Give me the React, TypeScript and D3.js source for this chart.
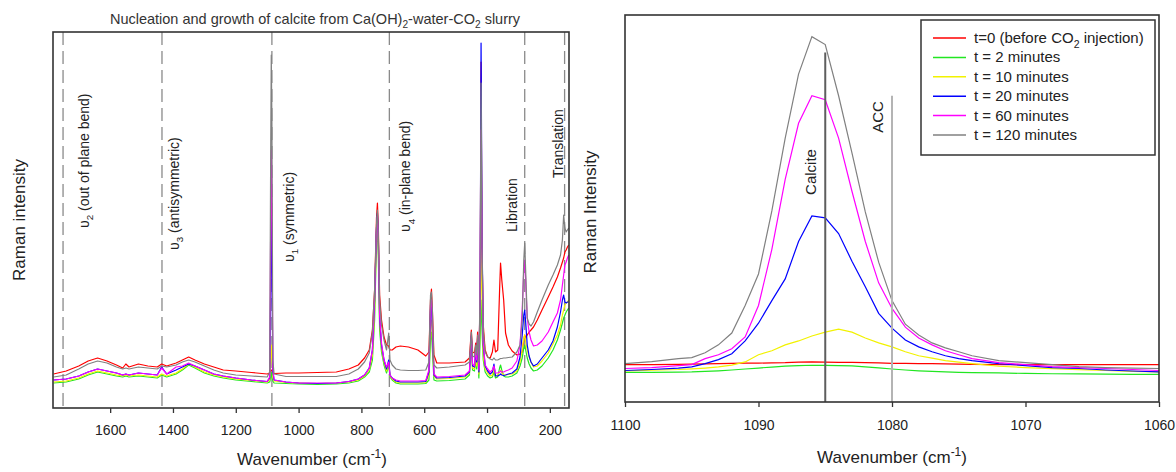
import * as d3 from "d3";
import { useEffect, useRef } from "react";

// Left panel: full Raman spectra, wavenumber (cm-1) and intensity (a.u.)
const fullWavenumbers = [
  1780, 1740, 1700, 1670, 1640, 1610, 1580, 1560, 1550, 1540,
  1510, 1480, 1450, 1436, 1420, 1390, 1370, 1350, 1330, 1300,
  1270, 1240, 1200, 1150, 1100, 1092, 1089, 1087, 1085, 1082,
  1078, 1040, 1000, 940, 880, 840, 810, 790, 775, 765,
  758, 752, 749, 746, 742, 736, 728, 720, 713, 709,
  702, 690, 676, 650, 620, 595, 585, 580, 577, 574,
  569, 560, 520, 470, 456, 450, 446, 440, 436, 433,
  430, 426, 422, 419, 416, 412, 406, 398, 390, 383,
  378, 373, 366, 360, 357, 353, 347, 341, 332, 320,
  305, 295, 288, 283, 280, 277, 272, 266, 260, 252,
  240, 225, 205, 190, 176, 166, 160, 156, 152, 148,
  144, 140,
];
const fullT0 = [
  34, 37, 42, 47, 50, 47, 43, 40, 44, 41,
  44, 42, 41, 44, 42, 45, 48, 51, 48, 44,
  41, 38, 37, 35.5, 34, 35, 37, 38, 37, 35,
  34.5, 35, 35, 35.5, 36, 39, 43, 50, 58, 78,
  118, 190, 205, 180, 113, 88, 71, 63, 62, 58,
  58, 61, 62, 61, 58, 52, 56, 108, 119, 98,
  53, 45, 45, 46, 50, 78, 56, 55, 65, 58,
  76, 48, 108, 346, 158, 83, 58, 51, 50, 56,
  68, 56, 58, 118, 145, 128, 108, 75, 63, 57,
  53, 54, 56, 68, 73, 70, 73, 76, 78, 81,
  88, 98, 111, 121, 131, 140, 146, 150, 156, 158,
  161, 163,
];
const fullT2 = [
  25, 26, 29, 33, 36, 34, 32, 31, 32, 31,
  32, 31, 30, 33, 31, 34, 38, 43, 40, 35,
  32, 30, 28, 26.5, 25, 26, 30, 36, 32, 27,
  25, 24.5, 24, 23.5, 24, 25, 27, 31, 36, 48,
  88, 165, 178, 150, 78, 56, 43, 35, 43, 31,
  28, 25, 24, 24, 24, 24.5, 28, 68, 76, 58,
  28, 27, 27.5, 29, 33, 66, 38, 37, 48, 39,
  58, 30, 68, 108, 78, 48, 36, 32, 30, 31,
  36, 30, 31, 40, 43, 38, 32, 31, 31, 32,
  35, 42, 50, 60, 63, 58, 50, 44, 40, 37,
  38, 42, 50, 58, 68, 78, 85, 90, 93, 96,
  98, 100,
];
const fullT10 = [
  26, 27, 30, 34, 37, 35, 33, 32, 33, 32,
  33, 32, 31, 34, 32, 35, 39, 44, 41, 36,
  33, 31, 29, 27.5, 26, 28, 48, 63, 52, 31,
  27, 25.5, 25, 24.5, 25, 26, 28, 32, 38, 53,
  98, 172, 186, 158, 86, 60, 46, 37, 45, 32,
  29, 26, 25, 25, 25, 25.5, 33, 83, 88, 68,
  32, 29, 29.5, 31, 35, 68, 40, 39, 52, 42,
  63, 34, 88, 158, 108, 53, 39, 35, 32, 33,
  40, 32, 33, 36, 38, 35, 33, 33, 33.5, 34,
  37, 46, 58, 70, 73, 66, 58, 51, 46, 41,
  42, 47, 55, 64, 73, 83, 93, 98, 103, 105,
  106, 108,
];
const fullT20 = [
  28, 29, 32, 36, 39, 37, 35, 33, 34, 33,
  35, 34, 33, 41, 34, 38, 41, 44, 42, 38,
  34, 32, 30, 28, 26.5, 30, 118, 203, 148, 36,
  28, 26, 25, 24.5, 25, 26.5, 29, 33, 40, 58,
  108, 180, 195, 168, 90, 63, 48, 39, 48, 33,
  30, 27, 26, 26, 26, 26.5, 36, 98, 102, 78,
  33, 30, 30.5, 32, 36, 72, 42, 41, 58, 46,
  68, 36, 108, 365, 178, 63, 42, 37, 34, 36,
  44, 32, 32, 33, 34, 33, 32.5, 33, 34, 35,
  39, 51, 73, 93, 98, 86, 63, 52, 46, 42,
  44, 50, 58, 67, 81, 96, 108, 113, 106, 105,
  106, 106,
];
const fullT60 = [
  28, 29, 32, 36, 39, 37, 35, 33, 34, 33,
  35, 34, 33, 40, 34, 41, 42, 45, 42, 38,
  34, 32, 30, 28, 26.5, 31, 178, 258, 208, 40,
  28, 26, 25, 25, 25, 26.5, 29, 33, 40, 58,
  110, 178, 192, 166, 93, 65, 48, 41, 46, 33,
  30, 28, 27, 27, 27, 27.5, 38, 103, 108, 83,
  34, 31, 31.5, 33, 37, 73, 44, 42, 60, 48,
  71, 38, 118, 278, 168, 65, 43, 39, 36, 38,
  42, 35, 35, 36, 37, 36, 36, 37, 38, 40,
  47, 63, 98, 138, 148, 128, 90, 76, 68, 62,
  63, 67, 76, 86, 95, 108, 123, 133, 143, 146,
  150, 153,
];
const fullT120 = [
  31, 33, 39, 44, 47, 45, 41, 39, 40, 39,
  41, 40, 39, 42, 41, 43, 46, 48, 46, 42,
  38, 35, 33, 32, 31, 36, 248, 353, 288, 48,
  34, 31.5, 31.5, 31.5, 31.5, 34, 39, 46, 55, 76,
  118, 183, 198, 172, 108, 83, 68, 58, 75, 48,
  43, 39, 38, 37.5, 37.5, 38, 46, 113, 116, 98,
  43, 40, 41, 43, 46, 76, 52, 51, 63, 53,
  73, 46, 118, 325, 168, 78, 56, 51, 49, 48,
  50, 48, 48, 49, 49.5, 49.5, 50, 50, 50.5, 51,
  56, 63, 88, 148, 165, 138, 90, 84, 82, 86,
  96, 108, 123, 133, 143, 153, 168, 193, 180, 176,
  178, 180,
];

// Right panel: the v1 band expanded
const zoomWavenumbers = [
  1100, 1098, 1096, 1095, 1094, 1093, 1092, 1091, 1090, 1089, 1088,
  1087, 1086, 1085, 1084, 1083, 1082, 1081, 1080, 1079, 1078, 1077,
  1076, 1075, 1074, 1072, 1070, 1068, 1066, 1064, 1062, 1060,
];
const zoomT0 = [
  35, 35, 35.2, 35.5, 35.7, 36, 36.2, 36.4, 36.5, 36.8, 37,
  37.5, 37.7, 37.5, 37.3, 37.2, 37, 36.7, 36.3, 36.2, 36, 35.9,
  35.7, 35.5, 35.3, 35, 35, 35, 35, 35, 35, 35,
];
const zoomT2 = [
  27, 27, 27.3, 27.5, 28, 28.6, 29.5, 30.5, 31.5, 32.5, 33.5,
  34, 34.3, 34.2, 34, 33.6, 32.7, 31.7, 30.5, 29.5, 28.7, 28,
  27.5, 27, 26.8, 26.5, 26, 25.7, 25.5, 25.3, 25, 25,
];
const zoomT10 = [
  28.6, 29.4, 30, 30.7, 31.5, 32.6, 34.5, 37.7, 45, 49, 55,
  59, 64, 68, 71, 68, 62, 57, 53, 48, 44, 41.5,
  39, 37.5, 36, 33.3, 32, 30.8, 29.8, 29, 28.2, 27.5,
];
const zoomT20 = [
  29, 30, 31.5, 32.6, 36, 40, 46, 59, 77, 100, 122,
  160, 186, 184, 168, 140, 114, 87, 72, 60, 53, 48,
  44, 41, 39, 36, 34, 32, 31, 29.5, 28.5, 27.5,
];
const zoomT60 = [
  31, 32, 34, 35, 41, 45, 51, 63, 95, 152, 223,
  280, 308, 304, 265, 211, 160, 118, 92, 73, 62, 55,
  49, 45, 41, 37, 35, 33, 32, 31, 30, 29,
];
const zoomT120 = [
  36, 38, 41, 42, 47, 55, 67, 95, 127, 191, 265,
  330, 368, 360, 308, 250, 190, 139, 100, 76, 65, 57,
  52, 48, 44, 39, 37, 35, 33, 32, 31.5, 31,
];

const seriesLabels = [
  "t=0 (before CO_{2} injection)",
  "t = 2 minutes",
  "t = 10 minutes",
  "t = 20 minutes",
  "t = 60 minutes",
  "t = 120 minutes",
];
const seriesColors = ["#ff0000", "#22e622", "#f2f200", "#0000ff", "#ff00ff", "#808080"];

const fullTicks = [1600, 1400, 1200, 1000, 800, 600, 400, 200];
const zoomTicks = [1100, 1090, 1080, 1070, 1060];

// vibration bands marked in the left panel
const bandWavenumbers = [1750, 1435, 1085, 711, 280, 153];
const bandLabels = [
  "υ_{2} (out of plane bend)",
  "υ_{3} (antisymmetric)",
  "υ_{1} (symmetric)",
  "υ_{4} (in-plane bend)",
  "Libration",
  "Translation",
];

// reference lines in the right panel (position, label, height)
const markerWavenumbers = [1085, 1080];
const markerLabels = ["Calcite", "ACC"];
const markerTops = [352, 308];

// writes "a_{2}" / "a^{-1}" as tspans
function richText(sel: any, str: string, size: number) {
  const parts = str.split(/([_^]\{[^}]*\})/).filter((p) => p.length);
  let shift = 0;
  parts.forEach((p) => {
    const m = p.match(/^([_^])\{([^}]*)\}$/);
    if (m) {
      const d = m[1] === "_" ? size * 0.3 : -size * 0.4;
      sel.append("tspan").attr("dy", d - shift).attr("font-size", size * 0.7).text(m[2]);
      shift = d;
    } else {
      sel.append("tspan").attr("dy", -shift).text(p);
      shift = 0;
    }
  });
}

export default function App() {
  const ref = useRef<SVGSVGElement>(null);

  useEffect(() => {
    const svg = d3.select(ref.current);
    svg.selectAll("*").remove();
    svg.attr("font-family", "Liberation Sans, Arial, sans-serif");
    const ink = "#222";

    // ---------- left panel ----------
    const L = { left: 53, right: 569, top: 32, bottom: 408 };
    const xL = d3.scaleLinear().domain([1782, 139]).range([L.left, L.right]);
    const yL = d3.scaleLinear().domain([0, 376]).range([L.bottom, L.top]);
    const fullSeries = [fullT0, fullT2, fullT10, fullT20, fullT60, fullT120];

    // dashed band lines
    svg.selectAll(".band")
      .data(bandWavenumbers)
      .join("line")
      .attr("x1", (d) => xL(d)).attr("x2", (d) => xL(d))
      .attr("y1", L.top).attr("y2", L.bottom)
      .attr("stroke", "#8a8a8a")
      .attr("stroke-width", 1.3)
      .attr("stroke-dasharray", "13,6");

    const lineL = d3.line<number>()
      .x((d, i) => xL(fullWavenumbers[i]))
      .y((d) => yL(d));
    fullSeries.forEach((s, k) => {
      svg.append("path")
        .datum(s)
        .attr("d", lineL)
        .attr("fill", "none")
        .attr("stroke", seriesColors[k])
        .attr("stroke-width", 1.2)
        .attr("stroke-linejoin", "round");
    });

    // band labels (rotated), offset from their dashed line
    const labelDx = [26, 17, 22, 21, -8, -2];
    const labelBottom = [228, 250, 262, 232, 232, 178];
    bandWavenumbers.forEach((w, i) => {
      const t = svg.append("text")
        .attr("transform", `translate(${xL(w) + labelDx[i]},${labelBottom[i]}) rotate(-90)`)
        .attr("font-size", 14)
        .attr("fill", ink);
      richText(t, bandLabels[i], 14);
    });

    const axL = svg.append("g")
      .attr("transform", `translate(0,${L.bottom})`)
      .call(d3.axisBottom(xL).tickValues(fullTicks).tickSize(5).tickPadding(12).tickFormat(d3.format("d")));
    axL.select(".domain").remove();
    axL.selectAll("line").attr("stroke", "#333").attr("stroke-width", 1.3);
    axL.selectAll("text").attr("font-size", 14).attr("font-family", "Liberation Sans, Arial, sans-serif").attr("fill", ink);

    svg.append("rect")
      .attr("x", L.left).attr("y", L.top)
      .attr("width", L.right - L.left).attr("height", L.bottom - L.top)
      .attr("fill", "none").attr("stroke", "#333").attr("stroke-width", 1.6);

    const titleL = svg.append("text")
      .attr("x", (L.left + L.right) / 2 + 4).attr("y", 24)
      .attr("text-anchor", "middle").attr("font-size", 14.5).attr("fill", "#333");
    richText(titleL, "Nucleation and growth of calcite from Ca(OH)_{2}-water-CO_{2} slurry", 14.5);

    const xtL = svg.append("text")
      .attr("x", 312).attr("y", 465)
      .attr("text-anchor", "middle").attr("font-size", 17).attr("fill", ink);
    richText(xtL, "Wavenumber (cm^{-1})", 17);

    svg.append("text")
      .attr("transform", "translate(25,220) rotate(-90)")
      .attr("text-anchor", "middle").attr("font-size", 17).attr("fill", ink)
      .text("Raman intensity");

    // ---------- right panel ----------
    const R = { left: 625, right: 1159, top: 15, bottom: 402 };
    const xR = d3.scaleLinear().domain([1100, 1060]).range([R.left, R.right]);
    const yR = d3.scaleLinear().domain([-3, 390]).range([R.bottom, R.top]);
    const zoomSeries = [zoomT0, zoomT2, zoomT10, zoomT20, zoomT60, zoomT120];

    const lineR = d3.line<number>()
      .x((d, i) => xR(zoomWavenumbers[i]))
      .y((d) => yR(d));
    zoomSeries.forEach((s, k) => {
      svg.append("path")
        .datum(s)
        .attr("d", lineR)
        .attr("fill", "none")
        .attr("stroke", seriesColors[k])
        .attr("stroke-width", 1.2);
    });

    const markerColors = ["#5e5e5e", "#b4b4b4"];
    svg.selectAll(".marker")
      .data(markerWavenumbers)
      .join("line")
      .attr("x1", (d) => xR(d)).attr("x2", (d) => xR(d))
      .attr("y1", (d, i) => yR(markerTops[i])).attr("y2", R.bottom)
      .attr("stroke", (d, i) => markerColors[i])
      .attr("stroke-width", 2);

    const markerLabelY = [172, 117];
    markerWavenumbers.forEach((w, i) => {
      svg.append("text")
        .attr("transform", `translate(${xR(w) - 9},${markerLabelY[i]}) rotate(-90)`)
        .attr("text-anchor", "middle").attr("font-size", 15).attr("fill", ink)
        .text(markerLabels[i]);
    });

    const axR = svg.append("g")
      .attr("transform", `translate(0,${R.bottom})`)
      .call(d3.axisBottom(xR).tickValues(zoomTicks).tickSize(5).tickPadding(13).tickFormat(d3.format("d")));
    axR.select(".domain").remove();
    axR.selectAll("line").attr("stroke", "#333").attr("stroke-width", 1.3);
    axR.selectAll("text").attr("font-size", 14).attr("font-family", "Liberation Sans, Arial, sans-serif").attr("fill", ink);

    svg.append("rect")
      .attr("x", R.left).attr("y", R.top)
      .attr("width", R.right - R.left).attr("height", R.bottom - R.top)
      .attr("fill", "none").attr("stroke", "#333").attr("stroke-width", 1.6);

    // legend
    const lg = svg.append("g").attr("transform", "translate(921,20)");
    lg.append("rect")
      .attr("width", 234).attr("height", 135)
      .attr("fill", "#fff").attr("stroke", "#333").attr("stroke-width", 1.5);
    seriesLabels.forEach((lab, i) => {
      const yy = 18 + i * 19.4;
      lg.append("line")
        .attr("x1", 12).attr("x2", 45).attr("y1", yy).attr("y2", yy)
        .attr("stroke", seriesColors[i]).attr("stroke-width", 1.5);
      const t = lg.append("text")
        .attr("x", 53).attr("y", yy + 5)
        .attr("font-size", 15).attr("fill", ink);
      richText(t, lab, 15);
    });

    const xtR = svg.append("text")
      .attr("x", 892).attr("y", 463)
      .attr("text-anchor", "middle").attr("font-size", 17).attr("fill", ink);
    richText(xtR, "Wavenumber (cm^{-1})", 17);

    svg.append("text")
      .attr("transform", "translate(596,212) rotate(-90)")
      .attr("text-anchor", "middle").attr("font-size", 17).attr("fill", ink)
      .text("Raman Intensity");
  }, []);

  return (
    <svg
      ref={ref}
      width={1176}
      height={472}
      style={{ position: "absolute", left: 0, top: 0, background: "#fff" }}
    />
  );
}
